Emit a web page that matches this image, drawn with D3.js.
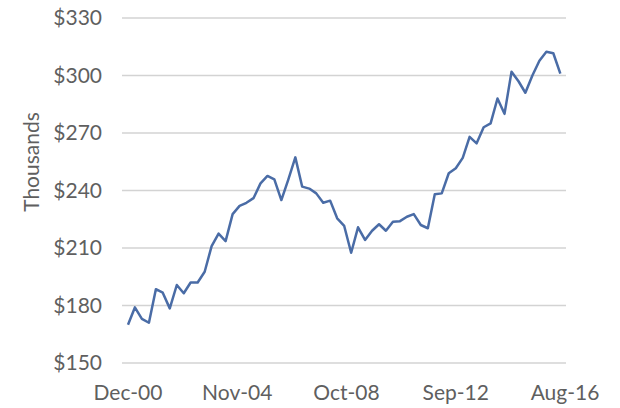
<!DOCTYPE html>
<html><head><meta charset="utf-8">
<script src="https://cdn.jsdelivr.net/npm/d3@7"></script>
<style>body{margin:0;background:#fff}svg{display:block}</style>
</head><body>
<script>
// Quarterly observation dates (first and last) and values, in $ thousands
const startDate = "2000-12-01";
const quarterStepMonths = 3;
const values = [170,179,173,171,188.5,186.7,178.5,190.7,186.4,192,192,197.6,
  211,217.5,213.6,227.7,232,233.6,236,243.7,247.6,245.8,235,245.8,257.3,242,
  241,238.5,233.6,234.7,225.5,221.5,207.5,220.8,214.2,219,222.4,219,223.7,224,
  226.3,227.7,222,220.3,238,238.5,249,251.6,257,268,264.6,273,275,288,280,302,
  297,291,300,307.7,312.4,311.6,301];
const tickDates = ["2000-12-01","2004-11-01","2008-10-01","2012-09-01","2016-08-01"];
const tickLabels = ["Dec-00","Nov-04","Oct-08","Sep-12","Aug-16"];
const yTicks = [150,180,210,240,270,300,330];
const yTitle = "Thousands";

const W=620,H=408;
const svg=d3.select("body").append("svg").attr("width",W).attr("height",H);
const parse=d3.utcParse("%Y-%m-%d");
const t0=parse(startDate);
const dates=values.map((v,i)=>d3.utcMonth.offset(t0,i*quarterStepMonths));
const tD=tickDates.map(parse);

const x=d3.scaleUtc().domain([tD[0],tD[tD.length-1]]).range([128,565]);
const y=d3.scaleLinear().domain([150,330]).range([363,18]);

const font="Lato, 'Open Sans', sans-serif";
const fs=21, col="#5f5f5f";
// gridlines
svg.append("g").selectAll("line").data(yTicks).join("line")
  .attr("x1",122).attr("x2",566).attr("y1",d=>y(d)).attr("y2",d=>y(d))
  .attr("stroke","#d3d3d3").attr("stroke-width",1.5);
// y labels
svg.append("g").selectAll("text").data(yTicks).join("text")
  .attr("x",102).attr("y",d=>y(d)).attr("dy","0.35em").attr("text-anchor","end")
  .attr("font-family",font).attr("font-size",fs).attr("fill",col)
  .text(d=>"$"+d);
// x labels
svg.append("g").selectAll("text").data(tD).join("text")
  .attr("x",d=>x(d)).attr("y",393).attr("dy","0.35em").attr("text-anchor","middle")
  .attr("font-family",font).attr("font-size",fs).attr("fill",col)
  .text((d,i)=>tickLabels[i]);
// y title
svg.append("text").attr("transform","translate(32,162) rotate(-90)")
  .attr("dy","0.35em").attr("text-anchor","middle")
  .attr("font-family",font).attr("font-size",fs).attr("fill",col).text(yTitle);
// line
const line=d3.line().x((d,i)=>x(dates[i])).y(d=>y(d));
svg.append("path").datum(values).attr("d",line).attr("fill","none")
  .attr("stroke","#4a6ca6").attr("stroke-width",2.5).attr("stroke-linejoin","round");
</script>
</body></html>
